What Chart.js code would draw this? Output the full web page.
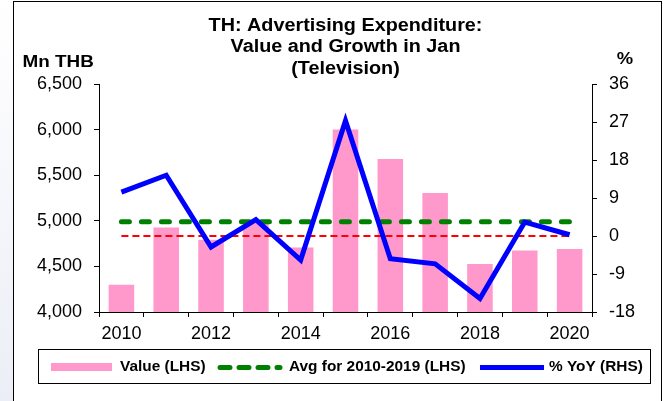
<!DOCTYPE html>
<html>
<head>
<meta charset="utf-8">
<title>TH: Advertising Expenditure</title>
<script src="https://cdn.jsdelivr.net/npm/chart.js@4.4.1/dist/chart.umd.min.js"></script>
<style>
  html, body { margin: 0; padding: 0; background: #fff; }
  #wrap { width: 667px; height: 401px; }
</style>
</head>
<body>
<div id="wrap"><canvas id="chart" width="667" height="401"></canvas></div>
<script>
const years = ['2010', '2011', '2012', '2013', '2014', '2015', '2016', '2017', '2018', '2019', '2020']
const valueMnTHB = [4300, 4927, 4793, 4976, 4708, 6000, 5678, 5305, 4526, 4675, 4691]
const avg2010to2019 = [4990, 4990, 4990, 4990, 4990, 4990, 4990, 4990, 4990, 4990, 4990]
const yoyPct = [10.4, 14.4, -2.6, 3.9, -5.7, 27.3, -5.4, -6.6, -14.8, 3.3, 0.3]
const zeroRef = [0, 0, 0, 0, 0, 0, 0, 0, 0, 0, 0]

const titleLines = ['TH: Advertising Expenditure:', 'Value and Growth in Jan', '(Television)']
const leftAxisTitle = 'Mn THB'
const rightAxisTitle = '%'

const FONT = '"Liberation Sans", Arial, sans-serif'
const PINK = '#ff99cc'
const GREEN = '#008000'
const BLUE = '#0000ff'
const RED = '#ff0000'

// the source picture is a little wider than tall, so text gets stretched sideways
function wideText(ctx, text, x, y, sx) {
	ctx.save()
	ctx.translate(x, y)
	ctx.scale(sx, 1)
	ctx.fillText(text, 0, 0)
	ctx.restore()
}

// frame, titles and the boxed legend
const decor = {
	id: 'decor',
	beforeDraw(chart) {
		const ctx = chart.ctx
		ctx.save()
		const g = ctx.createLinearGradient(0, 0, 0, 401)
		g.addColorStop(0, '#ffffff')
		g.addColorStop(1, '#eceef7')
		ctx.fillStyle = g
		ctx.fillRect(0, 0, 13, 401)
		ctx.restore()
	},
	afterDraw(chart) {
		const ctx = chart.ctx
		const area = chart.chartArea
		ctx.save()

		ctx.strokeStyle = '#000'
		ctx.lineWidth = 1
		ctx.strokeRect(13.5, 1.5, 648, 410)

		ctx.fillStyle = '#000'
		ctx.textAlign = 'center'
		ctx.textBaseline = 'alphabetic'
		ctx.font = 'bold 18px ' + FONT
		const cx = (area.left + area.right) / 2
		titleLines.forEach((t, i) => wideText(ctx, t, cx, 31 + i * 21.3, 1.1))

		ctx.font = 'bold 16px ' + FONT
		ctx.textAlign = 'left'
		wideText(ctx, leftAxisTitle, 22.5, 67, 1.18)
		ctx.textAlign = 'center'
		wideText(ctx, rightAxisTitle, 625, 64, 1.15)

		// legend
		ctx.strokeStyle = '#000'
		ctx.strokeRect(38.5, 349.5, 612, 34)
		ctx.font = 'bold 14px ' + FONT
		ctx.textAlign = 'left'
		ctx.textBaseline = 'middle'
		const ly = 367.5
		const ds = chart.data.datasets

		ctx.fillStyle = PINK
		ctx.fillRect(51, 363, 61, 8)
		ctx.fillStyle = '#000'
		wideText(ctx, ds[0].label, 120, ly, 1.1)

		ctx.strokeStyle = GREEN
		ctx.lineWidth = 5
		ctx.lineCap = 'round'
		ctx.setLineDash([10, 9])
		ctx.beginPath()
		ctx.moveTo(220, ly)
		ctx.lineTo(280, ly)
		ctx.stroke()
		ctx.setLineDash([])
		wideText(ctx, ds[1].label, 289, ly, 1.1)

		ctx.strokeStyle = BLUE
		ctx.lineCap = 'butt'
		ctx.beginPath()
		ctx.moveTo(480, ly)
		ctx.lineTo(544, ly)
		ctx.stroke()
		wideText(ctx, ds[2].label, 549, ly, 1.1)

		ctx.restore()
	}
}

const ctx = document.getElementById('chart').getContext('2d')

new Chart(ctx, {
	type: 'bar',
	data: {
		labels: years,
		datasets: [{
			label: 'Value (LHS)',
			data: valueMnTHB,
			backgroundColor: PINK,
			yAxisID: 'y',
			barPercentage: 0.57,
			categoryPercentage: 1,
			order: 4,
		}, {
			type: 'line',
			label: 'Avg for 2010-2019 (LHS)',
			data: avg2010to2019,
			borderColor: GREEN,
			borderWidth: 5,
			borderDash: [8, 12],
			borderCapStyle: 'round',
			pointRadius: 0,
			yAxisID: 'y',
			order: 2,
		}, {
			type: 'line',
			label: '% YoY (RHS)',
			data: yoyPct,
			borderColor: BLUE,
			borderWidth: 5,
			tension: 0,
			pointRadius: 0,
			yAxisID: 'y1',
			order: 1,
		}, {
			type: 'line',
			label: 'zero',
			data: zeroRef,
			borderColor: RED,
			borderWidth: 2,
			borderDash: [7, 4],
			pointRadius: 0,
			yAxisID: 'y1',
			order: 3,
		}],
	},
	options: {
		responsive: false,
		animation: false,
		devicePixelRatio: 1,
		layout: {
			padding: { top: 84, left: 0, right: 0, bottom: 0 }
		},
		plugins: {
			legend: { display: false },
			title: { display: false },
			tooltip: { enabled: false },
		},
		scales: {
			x: {
				offset: true,
				grid: {
					offset: true,
					drawOnChartArea: false,
					drawTicks: true,
					tickLength: 5,
					color: '#000',
				},
				border: { display: true, color: '#000', width: 1 },
				ticks: {
					color: '#000',
					font: { family: FONT, size: 18 },
					padding: 6,
					maxRotation: 0,
					autoSkip: false,
					callback: (v, i) => (i % 2 === 0 ? years[i] : ''),
				},
				afterFit: s => { s.height = 89 },
			},
			y: {
				position: 'left',
				min: 4000,
				max: 6500,
				grid: {
					drawOnChartArea: false,
					drawTicks: true,
					tickLength: 5,
					color: '#000',
				},
				border: { display: true, color: '#000', width: 1 },
				ticks: {
					stepSize: 500,
					color: '#000',
					font: { family: FONT, size: 18 },
					padding: 12,
					callback: v => v.toLocaleString('en-US'),
				},
				afterFit: s => { s.width = 99 },
			},
			y1: {
				position: 'right',
				min: -18,
				max: 36,
				grid: {
					drawOnChartArea: false,
					drawTicks: true,
					tickLength: 5,
					color: '#000',
				},
				border: { display: true, color: '#000', width: 1 },
				ticks: {
					stepSize: 9,
					color: '#000',
					font: { family: FONT, size: 18 },
					padding: 12,
				},
				afterFit: s => { s.width = 75 },
			},
		},
	},
	plugins: [decor],
})
</script>
</body>
</html>
